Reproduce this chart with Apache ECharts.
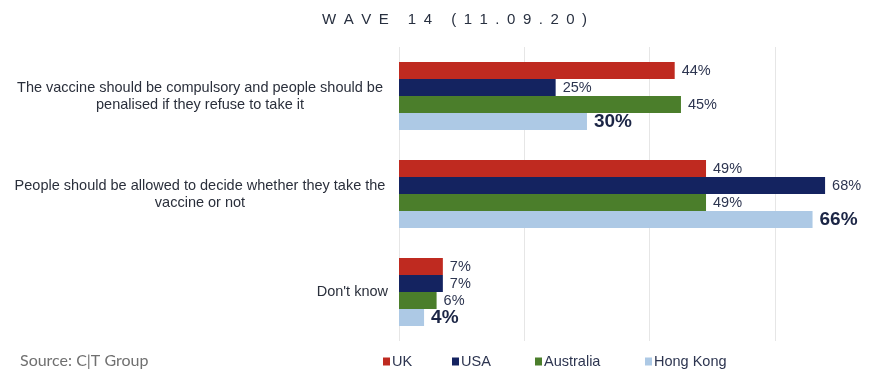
<!DOCTYPE html>
<html>
<head>
<meta charset="utf-8">
<script src="https://cdn.jsdelivr.net/npm/echarts@6/dist/echarts.min.js"></script>
<style>
  html, body { margin: 0; padding: 0; background: #fff; }
  #chart { width: 894px; height: 370px; }
</style>
</head>
<body>
<div id="chart"></div>
<script>
// categories (top to bottom)
const categories = [
  'The vaccine should be compulsory and people should be\npenalised if they refuse to take it',
  'People should be allowed to decide whether they take the\nvaccine or not',
  "Don't know"
]
const seriesNames = ['UK', 'USA', 'Australia', 'Hong Kong']
const ukValues = [44, 49, 7]
const usaValues = [25, 68, 7]
const australiaValues = [45, 49, 6]
const hongKongValues = [30, 66, 4]

const colors = ['#bf2a20', '#142360', '#4b7e2b', '#adc9e5']
const legendLefts = [383, 452, 535, 645]

const chart = echarts.init(document.getElementById('chart'))

// 每个标签的两行居中显示
const labelRich = {
  c1: {width: 376, align: 'center', fontSize: 14.5, lineHeight: 17, color: '#2a2f3b'},
  c3: {align: 'right', fontSize: 14.5, lineHeight: 17, color: '#2a2f3b'}
}

const makeSeries = (name, values, idx) => {
  const isHK = idx === 3
  return {
    name: name,
    type: 'bar',
    data: values,
    barWidth: 17,
    barGap: '0%',
    itemStyle: {color: colors[idx]},
    label: {
      show: true,
      position: 'right',
      distance: 7,
      formatter: '{c}%',
      fontFamily: 'Liberation Sans, Arial, sans-serif',
      fontSize: isHK ? 19 : 14.5,
      fontWeight: isHK ? 'bold' : 'normal',
      color: isHK ? '#1b2545' : '#2d3550'
    }
  }
}

// 图例：每项单独定位
const legends = seriesNames.map((n, i) => ({
  data: [n],
  left: legendLefts[i],
  top: 354,
  padding: 0,
  icon: 'rect',
  itemWidth: 7,
  itemHeight: 8,
  textStyle: {fontSize: 14.5, color: '#2d3550', padding: [0, 0, 0, -3]}
}))

const option = {
  animation: false,
  textStyle: {fontFamily: 'Liberation Sans, Arial, sans-serif'},
  title: [
    {
      text: 'W\u2002A\u2002V\u2002E\u2002 \u20021\u20024\u2002 \u2002(\u20021\u20021\u2002.\u20020\u20029\u2002.\u20022\u20020\u2002)',
      left: 322,
      top: 12,
      padding: 0,
      textStyle: {fontSize: 15, fontWeight: 'normal', color: '#283040', fontFamily: 'Liberation Sans, Arial, sans-serif'}
    },
    {
      text: 'Source: C|T Group',
      left: 20,
      top: 353,
      padding: 0,
      textStyle: {fontSize: 16, fontWeight: 'normal', color: '#707070', fontFamily: 'Lato, sans-serif'}
    }
  ],
  legend: legends,
  grid: {left: 399, right: 0, top: 47, bottom: 29, containLabel: false},
  xAxis: {
    type: 'value',
    min: 0,
    max: 79,
    interval: 20,
    axisLabel: {show: false},
    axisLine: {show: false},
    axisTick: {show: false},
    splitLine: {lineStyle: {color: '#e6e6e6', width: 1}}
  },
  yAxis: {
    type: 'category',
    inverse: true,
    data: categories,
    axisLine: {show: false},
    axisTick: {show: false},
    axisLabel: {
      margin: 11,
      formatter: (value, index) => {
        const lines = value.split('\n')
        const key = lines.length > 1 ? 'c1' : 'c3'
        return lines.map(l => '{' + key + '|' + l + '}').join('\n')
      },
      rich: labelRich
    }
  },
  series: [
    makeSeries(seriesNames[0], ukValues, 0),
    makeSeries(seriesNames[1], usaValues, 1),
    makeSeries(seriesNames[2], australiaValues, 2),
    makeSeries(seriesNames[3], hongKongValues, 3)
  ]
}

chart.setOption(option)
window.addEventListener('resize', () => chart.resize())
</script>
</body>
</html>
